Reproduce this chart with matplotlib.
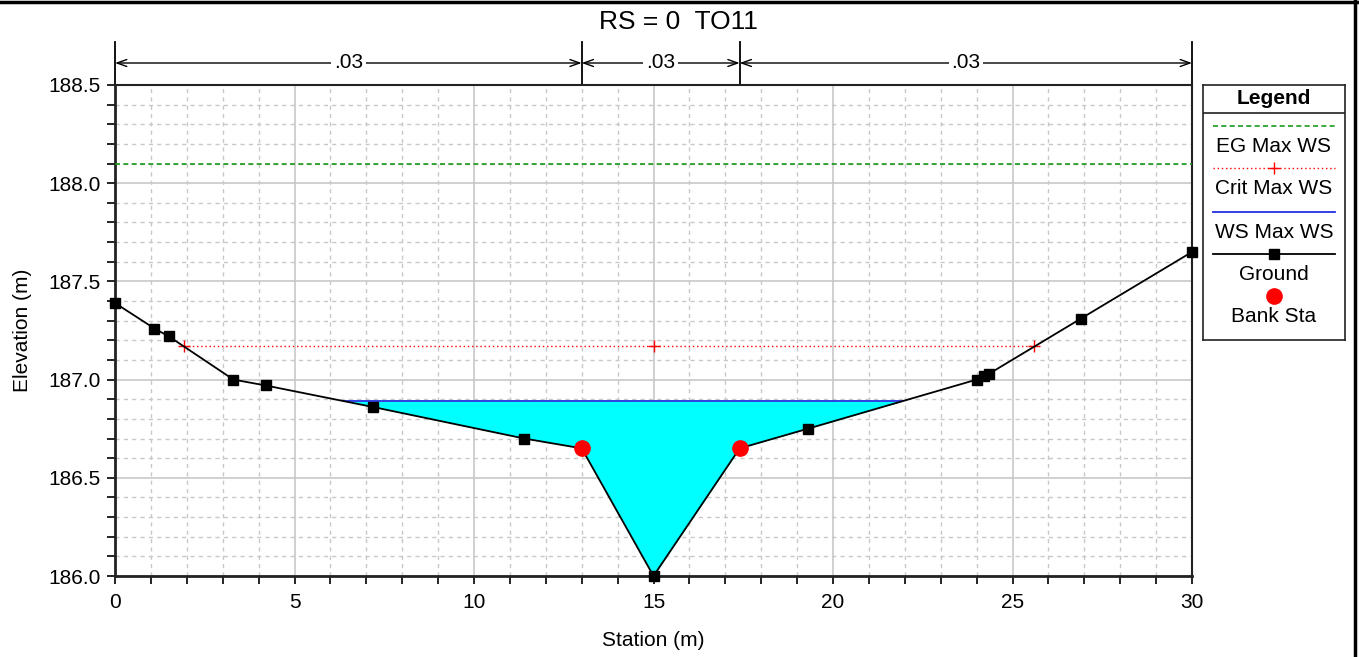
import numpy as np
import matplotlib
matplotlib.use("Agg")
import matplotlib.pyplot as plt
from matplotlib.transforms import blended_transform_factory
from matplotlib.lines import Line2D

plt.rcParams['font.family'] = ['Liberation Sans', 'DejaVu Sans']

# ---- data ----
title = "RS = 0  TO11"
ground_sta = [0.0, 1.1, 1.5, 3.3, 4.2, 7.2, 11.4, 13.0, 15.0, 17.4, 19.3, 24.0, 24.2, 24.35, 26.9, 30.0]
ground_elev = [187.39, 187.26, 187.22, 187.00, 186.97, 186.86, 186.70, 186.65, 186.00, 186.65, 186.75,
               187.00, 187.02, 187.03, 187.31, 187.65]
bank_sta = [13.0, 17.4]
bank_elev = [186.65, 186.65]
ws_elev = 186.89
crit_elev = 187.17
crit_marker_sta = [1.91, 15.0, 25.6]
eg_elev = 188.10
n_breaks = [0.0, 13.0, 17.4, 30.0]
n_values = [".03", ".03", ".03"]
legend_labels = ["EG Max WS", "Crit Max WS", "WS Max WS", "Ground", "Bank Sta"]

sta = np.array(ground_sta)
elev = np.array(ground_elev)

FS = 15


def crossings(x, y, level):
    xs = []
    for i in range(len(x) - 1):
        y0, y1 = y[i] - level, y[i + 1] - level
        if y0 == 0:
            xs.append(x[i])
        elif y0 * y1 < 0:
            xs.append(x[i] + (x[i + 1] - x[i]) * (-y0) / (y1 - y0))
    return xs


fig = plt.figure(figsize=(13.59, 6.57), dpi=100)
W, H = 1359, 657
ax = fig.add_axes([115 / W, 1 - 576 / H, (1192 - 115) / W, (576 - 85) / H])
ax.set_xlim(0, 30)
ax.set_ylim(186.0, 188.5)

ax.set_xticks(np.arange(0, 31, 5))
ax.set_xticks(np.arange(0, 31, 1), minor=True)
ax.set_yticks(np.arange(186.0, 188.51, 0.5))
ax.set_yticks(np.arange(186.0, 188.51, 0.1), minor=True)
ax.set_yticklabels([f"{v:.1f}" for v in np.arange(186.0, 188.51, 0.5)])
ax.tick_params(which='both', direction='out', labelsize=FS, colors='black')
ax.tick_params(which='major', length=6, width=1.2)
ax.tick_params(which='minor', length=6, width=1.2)
ax.tick_params(axis='x', which='major', pad=6)
ax.tick_params(axis='y', which='major', pad=4)
ax.grid(which='major', color='#c8c8c8', lw=1.2, ls='-', zorder=0)
ax.grid(which='minor', color='#c8c8c8', lw=1.0, ls=(0, (3, 3)), zorder=0)
ax.set_axisbelow(True)
for s in ['left', 'bottom']:
    ax.spines[s].set_linewidth(2)
    ax.spines[s].set_color('#222222')
for s in ['top', 'right']:
    ax.spines[s].set_linewidth(1.5)
    ax.spines[s].set_color('#222222')

ax.set_xlabel("Station (m)", fontsize=FS, labelpad=14)
ax.set_ylabel("Elevation (m)", fontsize=FS, labelpad=12)

# water fill
ax.fill_between(sta, elev, ws_elev, where=elev < ws_elev, interpolate=True,
                color='#00ffff', lw=0, zorder=2)
ws_x = crossings(sta, elev, ws_elev)
ax.plot([ws_x[0], ws_x[-1]], [ws_elev, ws_elev], color='#2030e0', lw=1.3, zorder=3)

# EG
ax.plot([0, 30], [eg_elev, eg_elev], color='#1a9a1a', lw=1.2, ls=(0, (3, 2)), zorder=3)

# Crit
cx = crossings(sta, elev, crit_elev)
ax.plot([cx[0], cx[-1]], [crit_elev, crit_elev], color='red', lw=1.0, ls=(0, (1, 2)), zorder=3)
ax.plot(crit_marker_sta, [crit_elev] * len(crit_marker_sta), ls='none', marker='+',
        color='red', ms=8, mew=1.0, zorder=4)

# Ground
ax.plot(sta, elev, color='black', lw=1.3, marker='s', ms=7, mfc='black', mec='black',
        zorder=5, clip_on=False)
ax.plot(bank_sta, bank_elev, ls='none', marker='o', color='red', ms=11, zorder=6)

# n-value arrows
trans = blended_transform_factory(ax.transData, ax.transAxes)
y_arrow = (576 - 63) / 491
y_top = (576 - 42) / 491
for xb in n_breaks:
    ax.plot([xb, xb], [1.0, y_top], transform=trans, color='black', lw=1.3, clip_on=False)
for i, nv in enumerate(n_values):
    x0, x1 = n_breaks[i], n_breaks[i + 1]
    ax.annotate('', xy=(x1, y_arrow), xytext=(x0, y_arrow), xycoords=trans, textcoords=trans,
                arrowprops=dict(arrowstyle='<->,head_length=0.7,head_width=0.25', lw=1.0,
                                color='black', shrinkA=0, shrinkB=0), annotation_clip=False)
    ax.text((x0 + x1) / 2, y_arrow, nv, transform=trans, ha='center', va='center',
            fontsize=FS, bbox=dict(facecolor='white', edgecolor='none', pad=2), zorder=10)

fig.text(678 / W, 1 - 22 / H, title, ha='center', va='center', fontsize=19)

# legend box (manual)
lx0, lx1, ly0, ly1 = 1203, 1345, 85, 340
lax = fig.add_axes([lx0 / W, 1 - ly1 / H, (lx1 - lx0) / W, (ly1 - ly0) / H])
lax.set_xlim(0, lx1 - lx0)
lax.set_ylim(ly1 - ly0, 0)
lax.set_xticks([])
lax.set_yticks([])
for s in lax.spines.values():
    s.set_linewidth(1.2)
    s.set_color('#222222')
cxm = (lx1 - lx0) / 2
lax.text(cxm, 13, "Legend", ha='center', va='center', fontsize=FS, fontweight='bold')
lax.plot([0, lx1 - lx0], [28, 28], color='#222222', lw=1.2)
lx_a, lx_b = 10, 132
lax.plot([lx_a, lx_b], [41, 41], color='#1a9a1a', lw=1.2, ls=(0, (3, 2)))
lax.text(cxm, 61, legend_labels[0], ha='center', va='center', fontsize=FS)
lax.plot([lx_a, lx_b], [83, 83], color='red', lw=1.0, ls=(0, (1, 2)))
lax.plot([cxm], [83], marker='+', color='red', ms=8, mew=1.0)
lax.text(cxm, 104, legend_labels[1], ha='center', va='center', fontsize=FS)
lax.plot([lx_a, lx_b], [127, 127], color='#2030e0', lw=1.3)
lax.text(cxm, 147, legend_labels[2], ha='center', va='center', fontsize=FS)
lax.plot([lx_a, lx_b], [169, 169], color='black', lw=1.3)
lax.plot([cxm], [169], marker='s', color='black', ms=7)
lax.text(cxm, 189, legend_labels[3], ha='center', va='center', fontsize=FS)
lax.plot([cxm], [211], marker='o', color='red', ms=11)
lax.text(cxm, 232, legend_labels[4], ha='center', va='center', fontsize=FS)

# figure border
fig.add_artist(Line2D([0, 1], [1 - 1.5 / H, 1 - 1.5 / H], transform=fig.transFigure, color='black', lw=2.5))
fig.add_artist(Line2D([1355 / W, 1355 / W], [0, 1], transform=fig.transFigure, color='black', lw=2.5))

fig.savefig("out.png", dpi=100)
